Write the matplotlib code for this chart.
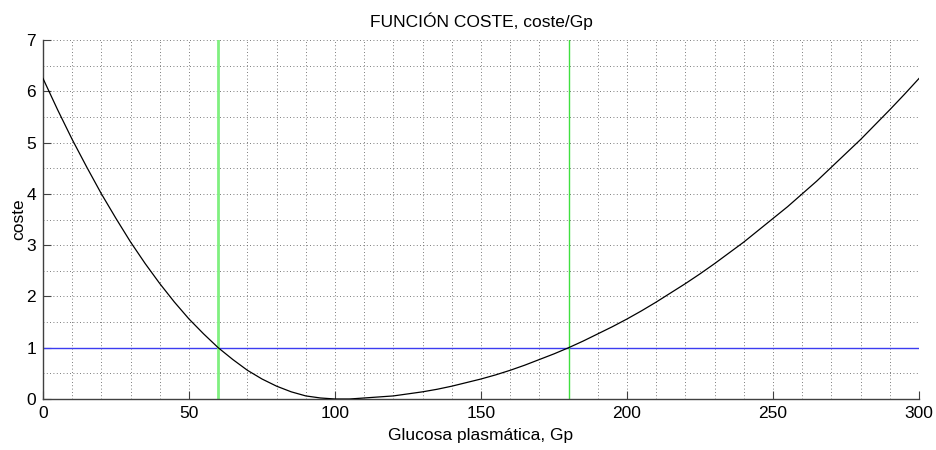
import matplotlib
matplotlib.use("Agg")
import matplotlib.pyplot as plt
from matplotlib.ticker import MultipleLocator

plt.rcParams['font.family'] = ['Liberation Sans', 'DejaVu Sans']

# Data
gp = list(range(0, 305, 5))
coste = [6.25, 5.64, 5.06, 4.52, 4.00, 3.52, 3.06, 2.64, 2.25, 1.89,
         1.56, 1.27, 1.00, 0.77, 0.56, 0.39, 0.25, 0.14, 0.06, 0.02,
         0.00, 0.00, 0.02, 0.04, 0.06, 0.10, 0.14, 0.19, 0.25, 0.32,
         0.39, 0.47, 0.56, 0.66, 0.77, 0.88, 1.00, 1.13, 1.27, 1.41,
         1.56, 1.72, 1.89, 2.07, 2.25, 2.44, 2.64, 2.85, 3.06, 3.29,
         3.52, 3.75, 4.00, 4.25, 4.52, 4.79, 5.06, 5.35, 5.64, 5.94, 6.25]
umbral = 1.0
limite_bajo = 60
limite_alto = 180

fig = plt.figure(figsize=(9.37, 4.5), dpi=100)
ax = fig.add_axes([43/937, 1-399/450, (919-43)/937, (399-40)/450])

ax.plot(gp, coste, color='black', lw=0.9, zorder=3)
ax.axhline(umbral, color='#3c3cf0', lw=1.0, zorder=2)
ax.axvline(limite_bajo, color='#80f080', lw=2.0, zorder=2)
ax.axvline(limite_alto, color='#40e040', lw=1.0, zorder=2)

ax.set_xlim(0, 300)
ax.set_ylim(0, 7)
ax.xaxis.set_major_locator(MultipleLocator(50))
ax.xaxis.set_minor_locator(MultipleLocator(10))
ax.yaxis.set_major_locator(MultipleLocator(1))
ax.yaxis.set_minor_locator(MultipleLocator(0.5))
ax.grid(which='both', linestyle=(0, (1, 3)), color='#505050', lw=0.6)
ax.set_axisbelow(True)

for s in ['top', 'right']:
    ax.spines[s].set_visible(False)
for s in ['left', 'bottom']:
    ax.spines[s].set_color('#404040')
    ax.spines[s].set_linewidth(1.0)

ax.tick_params(which='major', direction='in', length=6, labelsize=12.5,
               color='#404040', pad=5)
ax.tick_params(which='minor', length=0)

ax.set_title('FUNCIÓN COSTE, coste/Gp', fontsize=12.5, pad=9)
ax.set_xlabel('Glucosa plasmática, Gp', fontsize=12.5, labelpad=5)
ax.set_ylabel('coste', fontsize=12.5, labelpad=0)

fig.savefig('out.png', dpi=100)
